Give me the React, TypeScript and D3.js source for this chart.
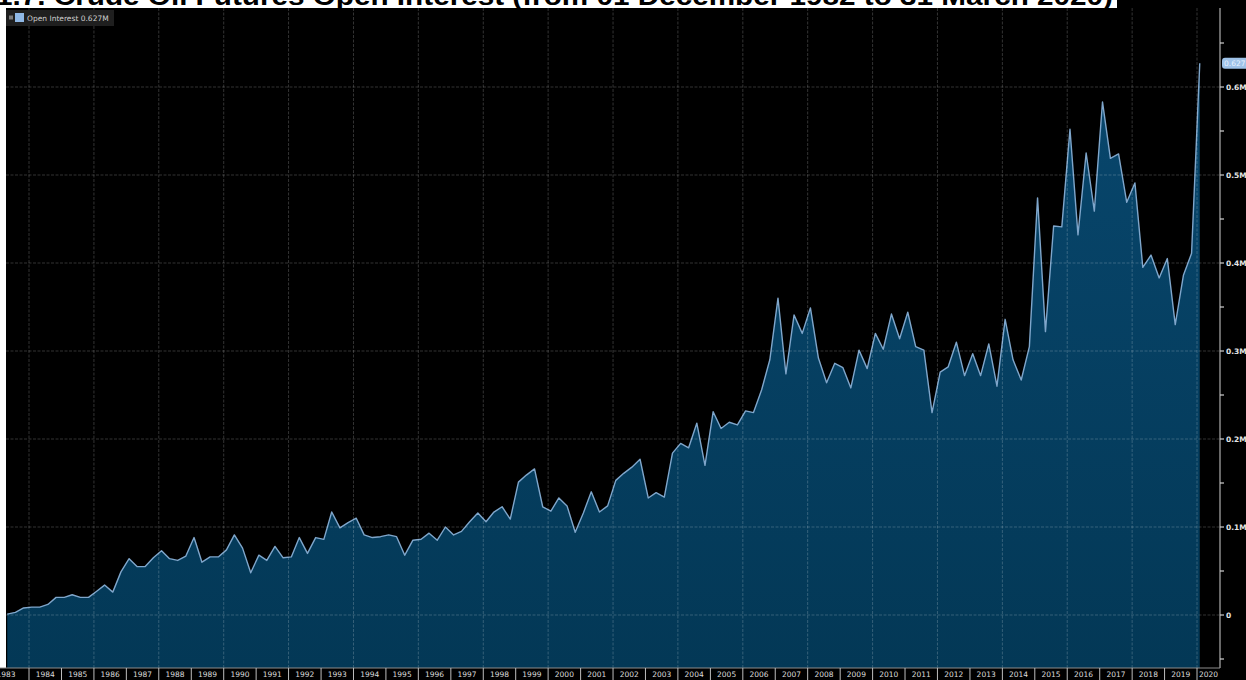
import * as d3 from "d3";

const W = 1246, H = 680;
const plot = { left: 6, right: 1220, top: 8, bottom: 668 };

// quarterly open interest, thousands of contracts, starting May 1983
const openInterest = [
  1, 3, 8, 9, 9, 12, 20, 20, 23, 20,
  20, 27, 34, 26, 49, 64, 55, 55, 65, 73,
  64, 62, 67, 88, 60, 66, 66, 74, 91, 76,
  48, 68, 62, 78, 65, 66, 88, 70, 88, 86,
  117, 99, 105, 110, 91, 88, 89, 91, 89, 68,
  85,
  86, 93, 85, 100, 91, 95, 106, 116, 106, 117,
  123, 109, 151, 159, 166, 123, 118, 133, 124, 94,
  116, 140, 117, 124, 153, 161, 168, 177, 133, 139,
  134, 184, 195, 190, 218, 170, 231, 212, 219, 216,
  232, 230,
  256, 290, 360, 274, 341, 320, 349, 292, 264, 286,
  281, 258, 301, 280, 320, 302, 342, 314, 344, 305,
  301, 230, 276, 282, 310, 272, 297, 272, 308, 260,
  336, 290, 267, 305,
  474, 322, 442, 441, 552, 432, 525, 459, 583, 519,
  524, 469, 491, 395, 409, 383, 405, 330, 386, 411,
  627,
];
const firstQuarter = new Date(1983, 4, 1);

const years = d3.range(1983, 2021);
const gridYears = d3.range(1984, 2021, 2);
const yTicks = [0, 100, 200, 300, 400, 500, 600];
const yMinorTicks = d3.range(-50, 651, 50);

const title = "1.7. Crude Oil Futures Open Interest (from 01 December 1982 to 31 March 2020)";
const legendLabel = "Open Interest 0.627M";
const lastLabel = "0.627";

const fmtTick = (v: number) => (v === 0 ? "0" : `${v / 1000}M`);

const data = openInterest.map((v, i) => ({
  date: d3.timeMonth.offset(firstQuarter, i * 3),
  value: v,
}));

const x = d3.scaleTime()
  .domain([new Date(1984, 0, 1), new Date(2020, 0, 1)])
  .range([29, 1197]);

const y = d3.scaleLinear().domain([0, 600]).range([615, 87]);

const area = d3.area<{ date: Date; value: number }>()
  .x(d => x(d.date))
  .y0(plot.bottom)
  .y1(d => y(d.value));

const line = d3.line<{ date: Date; value: number }>()
  .x(d => x(d.date))
  .y(d => y(d.value));

const smallFont = "'DejaVu Sans', 'Liberation Sans', sans-serif";
const gridStroke = "rgba(255,255,255,0.2)";

export default function App() {
  return (
    <div style={{ position: "absolute", left: 0, top: 0 }}>
      <svg width={W} height={H} style={{ display: "block", background: "#fff" }}>
        <defs>
          <clipPath id="plotClip">
            <rect x={plot.left} y={plot.top} width={plot.right - plot.left} height={plot.bottom - plot.top} />
          </clipPath>
          <clipPath id="titleClip">
            <rect x={0} y={0} width={1117} height={8} />
          </clipPath>
          <linearGradient id="fillGrad" gradientUnits="userSpaceOnUse" x1={0} y1={87} x2={0} y2={plot.bottom}>
            <stop offset="0%" stopColor="#08466c" />
            <stop offset="100%" stopColor="#033856" />
          </linearGradient>
        </defs>

        {/* backgrounds */}
        <rect x={plot.left} y={plot.top} width={W - plot.left} height={H - plot.top} fill="#000" />
        <rect x={1117} y={0} width={W - 1117} height={plot.top} fill="#000" />
        <rect x={0} y={plot.bottom} width={W} height={H - plot.bottom} fill="#000" />

        {/* title, cut off at the top as in the source */}
        <g clipPath="url(#titleClip)">
          <text x={-4} y={5} fontFamily="'Liberation Sans', Arial, sans-serif" fontWeight="bold"
            fontSize={26} fill="#000" textLength={1117} lengthAdjust="spacingAndGlyphs">
            {title}
          </text>
        </g>

        {/* series */}
        <g clipPath="url(#plotClip)">
          <path d={area(data) ?? ""} fill="url(#fillGrad)" />
          <path d={line(data) ?? ""} fill="none" stroke="#7fa6cb" strokeWidth={1.4} strokeLinejoin="round" />
        </g>

        {/* grid */}
        <g stroke={gridStroke} strokeWidth={1} strokeDasharray="3,1.5">
          {yTicks.map(t => (
            <line key={t} x1={plot.left} x2={plot.right} y1={y(t)} y2={y(t)} />
          ))}
          {gridYears.map(yr => (
            <line key={yr} x1={x(new Date(yr, 0, 1))} x2={x(new Date(yr, 0, 1))} y1={plot.top} y2={plot.bottom} />
          ))}
        </g>

        {/* right axis */}
        <line x1={plot.right} x2={plot.right} y1={plot.top} y2={plot.bottom} stroke="#d0d0d0" strokeWidth={1} />
        {yMinorTicks.map(t => (
          <line key={t} x1={plot.right} x2={plot.right + 4} y1={y(t)} y2={y(t)} stroke="#d0d0d0" strokeWidth={1.2} />
        ))}
        {yTicks.map(t => (
          <text key={t} x={plot.right + 6} y={y(t)} dy="0.35em" fontFamily={smallFont} fontSize={7.5}
            fontWeight="bold" fill="#e6e6e6">
            {fmtTick(t)}
          </text>
        ))}

        {/* last value badge */}
        <rect x={plot.right + 2} y={y(627) - 5.5} width={30} height={11} rx={3} fill="#9fc2e8" />
        <text x={plot.right + 4} y={y(627)} dy="0.35em" fontFamily={smallFont} fontSize={7.5} fill="#eaf3ff">
          {lastLabel}
        </text>

        {/* bottom axis */}
        <line x1={0} x2={plot.right} y1={plot.bottom} y2={plot.bottom} stroke="#8c8c8c" strokeWidth={1} />
        {years.map(yr => {
          const x0 = x(new Date(yr, 0, 1));
          const x1 = Math.min(x(new Date(yr + 1, 0, 1)), plot.right);
          const cx = yr === 1983 ? 6 : (x0 + x1) / 2;
          return (
            <g key={yr}>
              {x0 > 0 && (
                <line x1={x0} x2={x0} y1={plot.bottom} y2={H} stroke="#bdbdbd" strokeWidth={1} />
              )}
              <text x={cx} y={677} textAnchor="middle" fontFamily={smallFont} fontSize={7.5}
                fill="#dcdcdc">
                {yr}
              </text>
            </g>
          );
        })}

        {/* legend */}
        <rect x={6} y={10} width={108} height={16} fill="#1f1f1f" />
        <rect x={9} y={15.5} width={4} height={4} fill="#7a7a7a" />
        <rect x={15} y={13} width={9} height={9} fill="#8fb8e6" />
        <text x={27} y={20.5} fontFamily={smallFont} fontSize={7.5} fill="#cfcfcf">
          {legendLabel}
        </text>
      </svg>
    </div>
  );
}
